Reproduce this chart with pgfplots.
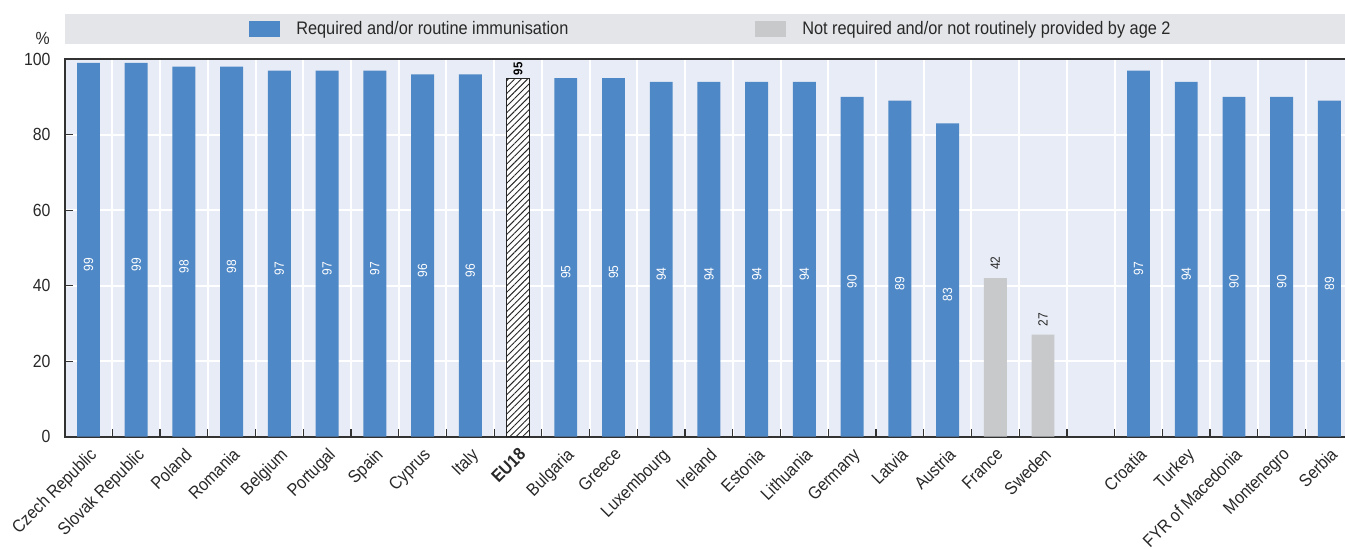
\documentclass[border=0pt]{standalone}
\usepackage{fontspec}
\setmainfont{Liberation Sans}[FakeStretch=0.9]
\usepackage{pgfplots}
\pgfplotsset{compat=1.18}
\usepackage{pgfplotstable}
\usetikzlibrary{patterns.meta}
\definecolor{oblue}{RGB}{79,136,198}
\definecolor{ogray}{RGB}{200,201,203}
\definecolor{obg}{RGB}{232,236,246}
\definecolor{oleg}{RGB}{228,229,232}
\definecolor{otext}{RGB}{40,40,40}
\definecolor{oaxis}{RGB}{50,50,50}
\newcommand\lab{\fontsize{13.2}{15}\selectfont}
\newcommand\leglab{\fontsize{13.6}{15}\selectfont}
\newcommand\vlab{\fontsize{10}{11}\selectfont}

\pgfplotstableread{
x y
0 99
1 99
2 98
3 98
4 97
5 97
6 97
7 96
8 96
10 95
11 95
12 94
13 94
14 94
15 94
16 90
17 89
18 83
22 97
23 94
24 90
25 90
26 89
}\bluedata
\pgfplotstableread{
x y
19 42
20 27
}\greydata
\pgfplotstableread{
x y
9 95
}\eudata

\pgfplotsset{mylegend/.style={legend image code/.code={\fill[##1] (0pt,-6pt) rectangle (23.25pt,6pt);}}}

\begin{document}
\begin{tikzpicture}
\useasboundingbox (-48.45pt,-84.2pt) rectangle (960.3pt,327.5pt);
\begin{axis}[
 scale only axis, width=966.5pt, height=283.1pt,
 xmin=-0.5, xmax=26.5, ymin=0, ymax=100,
 clip=false,
 ybar,
 axis background/.style={fill=obg},
 axis line style={oaxis, line width=1.6pt},
 tick pos=left,
 tick align=inside,
 major tick length=6pt, minor tick length=6pt,
 xtick={0,...,26},
 xticklabels={Czech Republic, Slovak Republic, Poland, Romania, Belgium, Portugal, Spain, Cyprus, Italy, \textbf{EU18}, Bulgaria, Greece, Luxembourg, Ireland, Estonia, Lithuania, Germany, Latvia, Austria, France, Sweden, {}, Croatia, Turkey, FYR of Macedonia, Montenegro, Serbia},
 minor xtick={0.5,1.5,...,25.5},
 every major x tick/.append style={draw=none},
 every minor tick/.append style={oaxis, line width=0.9pt},
 every major tick/.append style={oaxis, line width=0.9pt},
 xminorgrids=true, ymajorgrids=true, xmajorgrids=false,
 grid style={white, line width=1.5pt},
 minor grid style={white, line width=1.5pt},
 ytick={0,20,...,100},
 xticklabel style={yshift=-6pt, rotate=45, anchor=north east, font=\lab, text=otext, inner sep=1pt},
 yticklabel style={font=\lab, text=otext, xshift=-7pt},
 /pgf/number format/assume math mode=true,
 ylabel={\%},
 every axis y label/.style={at={(axis description cs:-0.017,1.056)}, anchor=center, font=\lab, text=otext},
 legend columns=2,
 legend style={at={(axis description cs:0.1431,1.08)}, anchor=west, draw=none, fill=none, inner sep=0pt, font=\leglab, text=otext, /tikz/column sep=0pt, /tikz/every odd column/.append style={column sep=12pt}, nodes={inner sep=0pt}},
]
\fill[oleg] (rel axis cs:0,1.0403) rectangle (rel axis cs:1,1.1197);

\addplot[bar width=0.48, bar shift=0pt, fill=oblue, draw=none,
 nodes near coords, visualization depends on=y \as \rawy,
 every node near coord/.append style={shift={(axis direction cs:0,-\rawy/2)}, rotate=90, anchor=east, inner xsep=6pt, inner ysep=0pt, text=white, font=\vlab}, mylegend] table {\bluedata};
\addlegendentry{\makebox[344.25pt][l]{Required and/or routine immunisation}}

\addplot[bar width=0.48, bar shift=0pt, fill=ogray, draw=none,
 nodes near coords,
 every node near coord/.append style={rotate=90, anchor=west, inner xsep=6pt, inner ysep=0pt, text=otext, font=\vlab}, mylegend] table {\greydata};
\addlegendentry{Not required and/or not routinely provided by age 2}

\addplot[bar width=0.48, bar shift=0pt, fill=white, draw=black!85, line width=0.8pt,
 postaction={pattern={Lines[angle=45, distance=3.4pt, line width=0.7pt]}, pattern color=black!85},
 nodes near coords,
 every node near coord/.append style={rotate=90, anchor=west, inner xsep=1.8pt, inner ysep=0pt, text=black, font=\fontsize{9.5}{10}\selectfont\bfseries}, forget plot] table {\eudata};
\end{axis}
\end{tikzpicture}
\end{document}
